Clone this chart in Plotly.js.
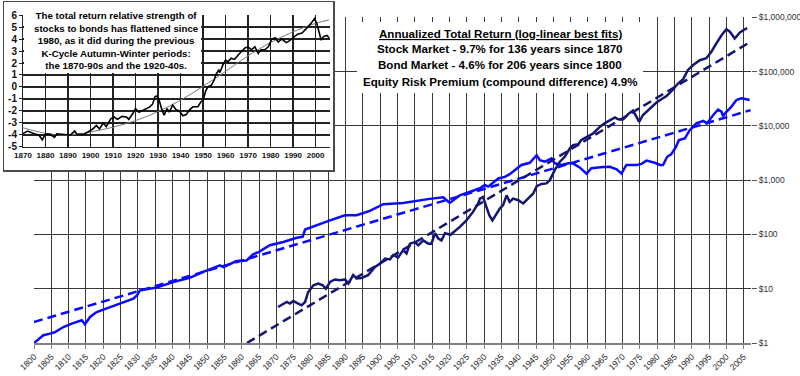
<!DOCTYPE html>
<html><head><meta charset="utf-8">
<script src="https://cdn.plot.ly/plotly-3.0.1.min.js"></script>
<style>html,body{margin:0;padding:0;background:#fff;}#chart{width:800px;height:376px;}</style>
</head><body><div id="chart"></div>
<script>
// ---- Main chart data (growth of $1) ----
const bondYears = [1800,1802.7,1804.6,1806,1808.5,1810.9,1813.8,1814.7,1816.2,1818.1,1822,1825.8,1828.7,1829.8,1830.6,1835.4,1840.2,1845,1848.9,1853.7,1854.7,1858.5,1861.4,1863.3,1865,1868.1,1872,1875.9,1877.6,1878.3,1881.6,1885.5,1889.8,1893.2,1897,1900.9,1906.6,1910.5,1914.3,1918.2,1920.1,1923,1925.9,1928.8,1930.2,1931.2,1934.1,1936,1937.4,1938.9,1940.8,1943.2,1945.2,1946.1,1947.6,1949.5,1950.4,1952.4,1954.3,1955.7,1957.7,1959.6,1961,1964.4,1966.3,1968.3,1969.7,1971.1,1974,1975.5,1976.9,1979.3,1980.8,1981.7,1982.9,1984.1,1985.4,1986.3,1988,1989.4,1991.3,1993.3,1994.4,1996.2,1997.6,1998.6,1999,2000,2001.4,2002.9,2004.3,2005.8,2006.7];
const bondValues = [1,1.39,1.49,1.58,1.97,2.28,2.62,2.21,3.02,3.72,4.57,5.70,6.58,7.59,9.33,10.5,13.3,15.8,20.4,26.9,25.1,32.4,33.1,43.2,47.9,63.1,72.4,87.1,90.2,123,148,182,226,226,272,361,380,417,452,484,380,525,610,708,813,759,1072,1148,1288,1531,1905,2089,2884,2344,2188,2512,2042,1905,2042,2042,1698,1318,1660,1738,1758,1585,1318,1905,1905,1995,2291,2089,1905,1905,2692,3020,4074,5495,5888,8318,11092,12303,11092,15849,19953,18197,15136,18197,22387,29854,32359,30903,29854];
const stockYears = [1870.5,1872,1873,1873.9,1874.9,1875.9,1877.3,1878.3,1879.2,1880.7,1882.1,1883.4,1884.3,1885.5,1886.9,1888.4,1889.8,1890.8,1892.2,1893.2,1894.6,1896.5,1898.5,1899.9,1901.4,1902.8,1903.8,1905.2,1906.6,1907.6,1908.6,1910,1911,1912.4,1913.9,1914.8,1915.8,1916.8,1917.7,1918.7,1920.3,1923,1924.9,1926.8,1928.3,1928.8,1929.7,1930.5,1931.5,1932.4,1933.6,1934.6,1935.5,1936.5,1937.4,1938.4,1939.9,1941.3,1942.7,1944.2,1945.2,1946.6,1948,1949,1950.4,1951.9,1953.3,1954.8,1955.7,1957.2,1958.1,1959.1,1960.1,1961.5,1962.5,1963.4,1964.9,1966.3,1967.8,1968.7,1970.2,1971.6,1973,1974,1974.8,1975.9,1977.4,1978.3,1979.8,1981.2,1982.7,1984.4,1986,1987.5,1988.9,1990.4,1992.3,1994.2,1995.7,1997.1,1998.6,2000,2001,2002.4,2003.9,2005.3,2006];
const stockValues = [4.61,5.32,5.70,5.32,5.96,5.47,4.95,5.70,8.71,11.6,12.4,11.6,10.0,13.3,14.8,14.3,14.8,12.4,17.8,15.5,15.8,17.8,25.1,28.8,36.0,34.7,41.7,37.6,51.3,44.7,67.6,72.4,63.1,77.6,67.6,67.6,105,84.1,77.6,105,98.5,138,182,260,372,457,490,347,226,182,243,302,347,525,398,457,427,372,457,569,776,851,871,1000,1531,2188,2692,3846,4416,4571,5495,5888,6457,7244,8318,9550,11220,12589,14322,13183,13183,16482,19055,14791,11885,15849,19498,22387,26915,30903,35481,45709,60256,72444,107152,131826,162181,175792,234423,331131,467735,602560,543250,407380,524807,602560,630957];
const bondFitYears = [1800, 2007];
const bondFitValues = [2.44, 19500];
const stockFitYears = [1861.5, 2007];
const stockFitValues = [1, 355000];
const yTickVals = [1,10,100,1000,10000,100000,1000000];
const yTickText = ['$1','$10','$100','$1,000','$10,000','$100,000','$1,000,000'];
const xTickYears = [1800,1805,1810,1815,1820,1825,1830,1835,1840,1845,1850,1855,1860,1865,1870,1875,1880,1885,1890,1895,1900,1905,1910,1915,1920,1925,1930,1935,1940,1945,1950,1955,1960,1965,1970,1975,1980,1985,1990,1995,2000,2005];

// ---- Inset data (relative strength stocks vs bonds) ----
const insetYears = [1870,1872,1875,1877,1878.6,1880,1882,1884,1885,1889,1891,1893,1894,1897,1899,1901,1902.6,1904,1905.6,1907,1909,1910.5,1912,1914,1916,1917,1919,1920,1921.5,1924,1926,1927.5,1928.7,1929.5,1930.5,1931.7,1932.7,1934,1935,1936.5,1938,1939.5,1941,1942.5,1944,1945.5,1947.7,1949,1950,1951.2,1952.4,1953.7,1955,1955.7,1957,1957.5,1958.7,1960,1961,1962.5,1964,1965.5,1967,1968.6,1970,1971.5,1973,1974.5,1975.7,1977.4,1979,1980.4,1982,1983.4,1985,1987,1988,1990,1992,1994,1996,1998,1999.5,2000.5,2001.5,2002.5,2003.5,2005,2006];
const insetRelStrength = [-3.89,-3.67,-3.9,-4.0,-4.4,-3.9,-3.95,-4.2,-3.9,-3.95,-4.0,-3.67,-3.95,-3.95,-3.75,-3.5,-3.2,-3.5,-3.0,-3.3,-2.65,-2.5,-2.7,-2.45,-2.5,-2.7,-2.15,-1.8,-2.1,-1.9,-1.7,-1.45,-0.8,-0.75,-1.1,-1.9,-2.35,-1.8,-2.1,-1.5,-1.9,-2.0,-2.4,-2.3,-1.9,-1.65,-1.65,-1.25,-1.1,-0.3,0.05,0.15,0.6,1.05,1.4,1.2,1.8,2.25,2.1,2.4,2.3,2.65,2.95,3.25,3.35,3.1,3.35,2.8,3.1,3.1,3.35,3.95,4.1,3.75,4.0,3.7,3.8,4.1,4.4,4.5,4.9,5.3,5.7,5.3,4.6,3.9,4.2,4.3,4.1];
const insetTrendYears = [1870,1880,1890,1900,1910,1920,1930,1940,1950,1960,1970,1980,1990,2000,2006];
const insetTrendValues = [-3.4,-3.85,-4.0,-3.75,-3.35,-2.8,-2.05,-1.1,0.05,1.3,2.6,3.7,4.6,5.3,5.6];
const insetXTicks = [1870,1880,1890,1900,1910,1920,1930,1940,1950,1960,1970,1980,1990,2000];
const insetYTicks = [-5,-4,-3,-2,-1,0,1,2,3,4,5,6];

const NARROW = '"Liberation Sans Narrow", "Liberation Sans", Arial, sans-serif';
const BLUE = '#0a0aff';
const NAVY = '#151575';
const GRID = '#3a3a3a';

const traces = [
  {x: bondYears, y: bondValues, type: 'scatter', mode: 'lines', line: {color: BLUE, width: 2.5}, xaxis: 'x', yaxis: 'y'},
  {x: stockYears, y: stockValues, type: 'scatter', mode: 'lines', line: {color: NAVY, width: 2.5}, xaxis: 'x', yaxis: 'y'},
  {x: bondFitYears, y: bondFitValues, type: 'scatter', mode: 'lines', line: {color: BLUE, width: 2.5, dash: '9px,5px'}, xaxis: 'x', yaxis: 'y'},
  {x: stockFitYears, y: stockFitValues, type: 'scatter', mode: 'lines', line: {color: NAVY, width: 2.5, dash: '9px,5px'}, xaxis: 'x', yaxis: 'y'},
  // empty trace: creates the white cover subplot that frames the inset
  {x: [], y: [], type: 'scatter', mode: 'lines', xaxis: 'x2', yaxis: 'y2', hoverinfo: 'skip'},
  {x: insetTrendYears, y: insetTrendValues, type: 'scatter', mode: 'lines', line: {color: '#7a7a7a', width: 1, shape: 'spline'}, xaxis: 'x3', yaxis: 'y3'},
  {x: insetYears, y: insetRelStrength, type: 'scatter', mode: 'lines', line: {color: '#000', width: 1.6}, xaxis: 'x3', yaxis: 'y3'}
];

const W = 749, H = 341; // plot area with margins l=2,r=49,t=2,b=33
function px(x){ return (x - 2) / W; }
function py(y){ return (343 - y) / H; }

const layout = {
  width: 800, height: 376,
  margin: {l: 2, r: 49, t: 2, b: 33},
  paper_bgcolor: '#fff', plot_bgcolor: '#fff',
  showlegend: false,
  font: {family: NARROW, color: '#222'},
  xaxis: {
    domain: [px(34), 1], range: [1800, 2007.1], anchor: 'y',
    tickmode: 'array', tickvals: xTickYears, ticktext: xTickYears.map(String),
    tickangle: -45, tickfont: {size: 8.5, family: NARROW, color: '#222'},
    showgrid: true, gridcolor: GRID, gridwidth: 1,
    showline: true, linecolor: '#808080', linewidth: 1.5,
    ticks: 'outside', ticklen: 4, tickcolor: '#808080', zeroline: false
  },
  yaxis: {
    domain: [0, py(17.3)], type: 'log', range: [0, 6], anchor: 'x', side: 'right',
    tickmode: 'array', tickvals: yTickVals, ticktext: yTickText,
    tickfont: {size: 8.5, family: NARROW, color: '#333'},
    showgrid: true, gridcolor: GRID, gridwidth: 1,
    showline: false, ticks: 'outside', ticklen: 5, tickcolor: '#555', zeroline: false
  },
  // cover subplot (white box framing the inset)
  xaxis2: {domain: [px(4), px(333)], range: [0, 1], anchor: 'y2', showgrid: false, zeroline: false,
           showticklabels: false, ticks: '', showline: true, mirror: true, linecolor: '#4a4a4a', linewidth: 1.5},
  yaxis2: {domain: [py(170), py(2)], range: [0, 1], anchor: 'x2', showgrid: false, zeroline: false,
           showticklabels: false, ticks: '', showline: true, mirror: true, linecolor: '#4a4a4a', linewidth: 1.5},
  // inset axes
  xaxis3: {
    domain: [px(23), px(330)], range: [1870, 2006.4], anchor: 'y3',
    tickmode: 'array', tickvals: insetXTicks, ticktext: insetXTicks.map(String),
    tickfont: {size: 8, family: NARROW, color: '#111', weight: 'bold'},
    showgrid: true, gridcolor: '#222', gridwidth: 1.2, zeroline: false,
    showline: true, linecolor: '#222', linewidth: 1, ticks: '', tickangle: 0
  },
  yaxis3: {
    domain: [py(147), py(15)], range: [-5.001, 6], anchor: 'x3',
    tickmode: 'array', tickvals: insetYTicks, ticktext: insetYTicks.map(String),
    tickfont: {size: 10, family: NARROW, color: '#111', weight: 'bold'},
    showgrid: true, gridcolor: '#222', gridwidth: 1.2, zeroline: false,
    showline: true, linecolor: '#222', linewidth: 1, ticks: 'outside', ticklen: 3, tickcolor: '#222'
  },
  shapes: [
    {type: 'rect', xref: 'paper', yref: 'paper', layer: 'above',
     x0: px(357), x1: px(643), y0: py(93), y1: py(22), fillcolor: '#fff', line: {width: 0}},
    {type: 'rect', xref: 'paper', yref: 'paper', layer: 'above',
     x0: px(24), x1: px(201), y0: py(73), y1: py(4), fillcolor: '#fff', line: {width: 0}}
  ],
  annotations: [
    {xref: 'paper', yref: 'paper', x: px(500), y: py(33), showarrow: false, xanchor: 'center', yanchor: 'middle',
     text: '<u>Annualized Total Return (log-linear best fits)</u>', font: {size: 11.6, family: NARROW, color: '#000', weight: 'bold'}},
    {xref: 'paper', yref: 'paper', x: px(500), y: py(49), showarrow: false, xanchor: 'center', yanchor: 'middle',
     text: 'Stock Market - 9.7% for 136 years since 1870', font: {size: 11.6, family: NARROW, color: '#000', weight: 'bold'}},
    {xref: 'paper', yref: 'paper', x: px(500), y: py(65), showarrow: false, xanchor: 'center', yanchor: 'middle',
     text: 'Bond Market - 4.6% for 206 years since 1800', font: {size: 11.6, family: NARROW, color: '#000', weight: 'bold'}},
    {xref: 'paper', yref: 'paper', x: px(500), y: py(81), showarrow: false, xanchor: 'center', yanchor: 'middle',
     text: 'Equity Risk Premium (compound difference) 4.9%', font: {size: 11.6, family: NARROW, color: '#000', weight: 'bold'}},
    {xref: 'paper', yref: 'paper', x: px(116), y: py(40), showarrow: false, xanchor: 'center', yanchor: 'middle', align: 'center',
     text: 'The total return relative strength of<br>stocks to bonds has flattened since<br>1980, as it did during the previous<br>K-Cycle Autumn-Winter periods:<br>the 1870-90s and the 1920-40s.',
     font: {size: 9.7, family: NARROW, color: '#000', weight: 'bold'}}
  ]
};

Plotly.newPlot('chart', traces, layout, {staticPlot: true, displayModeBar: false});
</script>
</body></html>
